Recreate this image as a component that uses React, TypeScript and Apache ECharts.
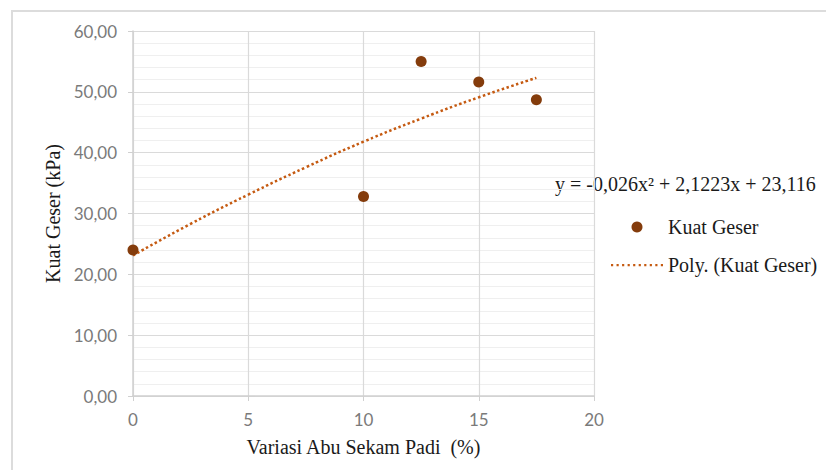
import React, { useEffect, useRef } from "react";
import * as echarts from "echarts";

const abuSekam: number[] = [0, 10, 12.5, 15, 17.5];
const kuatGeser: number[] = [24.0, 32.8, 55.0, 51.6, 48.7];
const trendX: number[] = [0, 2.5, 5, 7.5, 10, 12.5, 15, 17.5];
const trendY: number[] = [23.1, 28.3, 33.1, 37.6, 41.8, 45.6, 49.1, 52.3];
const xTicks: number[] = [0, 5, 10, 15, 20];
const yTicks: number[] = [0, 10, 20, 30, 40, 50, 60];
const equation = "y = -0,026x² + 2,1223x + 23,116";

const SERIF = "'Liberation Serif', 'Times New Roman', serif";
const SANS = "Lato, 'Open Sans', sans-serif";

// dotted-line legend icon (bounding box 52 x 11)
const dottedIcon = (() => {
  let d = "path://M0,0 L0.01,0 M52,11 L51.99,11";
  for (let i = 0; i < 10; i++) {
    const x = i * 5.6;
    d += ` M${x},4.5 h2.2 v2.2 h-2.2 z`;
  }
  return d;
})();

export default function App() {
  const ref = useRef<HTMLDivElement>(null);
  useEffect(() => {
    if (!ref.current) return;
    const chart = echarts.init(ref.current, undefined, { renderer: "svg" });
    chart.setOption({
      animation: false,
      backgroundColor: "#ffffff",
      grid: { left: 133, right: 232, top: 31, bottom: 74 },
      graphic: [
        {
          type: "rect",
          z: -10,
          shape: { x: 12, y: 11, width: 900, height: 600 },
          style: { fill: "none", stroke: "#dcdcdc", lineWidth: 2 },
          silent: true,
        },
        {
          type: "text",
          left: 555,
          top: 174,
          style: { text: equation, font: `20px ${SERIF}`, fill: "#1a1a1a" },
        },
      ],
      legend: {
        orient: "vertical",
        left: 606,
        top: 212,
        itemWidth: 52,
        itemHeight: 11,
        itemGap: 18,
        textStyle: { fontFamily: SERIF, fontSize: 20, color: "#1a1a1a" },
        data: [
          { name: "Kuat Geser", icon: "circle" },
          { name: "Poly. (Kuat Geser)", icon: dottedIcon, itemStyle: { color: "#c55a11" } },
        ],
      },
      xAxis: {
        type: "value",
        min: xTicks[0],
        max: xTicks[xTicks.length - 1],
        interval: xTicks[1] - xTicks[0],
        name: "Variasi Abu Sekam Padi  (%)",
        nameLocation: "middle",
        nameGap: 41,
        nameTextStyle: { fontFamily: SERIF, fontSize: 20, color: "#1a1a1a" },
        axisLine: { show: true, lineStyle: { color: "#d0d0d0", width: 1.5 } },
        axisTick: { show: true, length: 5, lineStyle: { color: "#d0d0d0" } },
        axisLabel: { fontFamily: SANS, fontSize: 17, color: "#7a7a7a", margin: 15 },
        splitLine: { show: true, lineStyle: { color: "#dadada", width: 1.2 } },
      },
      yAxis: {
        type: "value",
        min: yTicks[0],
        max: yTicks[yTicks.length - 1],
        interval: yTicks[1] - yTicks[0],
        name: "Kuat Geser (kPa)",
        nameLocation: "middle",
        nameGap: 68,
        nameTextStyle: { fontFamily: SERIF, fontSize: 20, color: "#1a1a1a" },
        axisLine: { show: true, lineStyle: { color: "#d0d0d0", width: 1.5 } },
        axisTick: { show: true, length: 5, lineStyle: { color: "#d0d0d0" } },
        axisLabel: {
          fontFamily: SANS,
          fontSize: 17,
          color: "#7a7a7a",
          margin: 16,
          formatter: (v: number) => v.toFixed(2).replace(".", ","),
        },
        splitLine: { show: true, lineStyle: { color: "#dadada", width: 1.2 } },
        minorTick: { show: false, splitNumber: 5 },
        minorSplitLine: { show: true, lineStyle: { color: "#efefef", width: 1 } },
      },
      series: [
        {
          name: "Kuat Geser",
          type: "scatter",
          symbol: "circle",
          symbolSize: 11,
          itemStyle: { color: "#843c0c", opacity: 1 },
          data: abuSekam.map((x, i) => [x, kuatGeser[i]]),
          z: 3,
        },
        {
          name: "Poly. (Kuat Geser)",
          type: "line",
          smooth: true,
          symbol: "none",
          showSymbol: false,
          lineStyle: { type: "dotted", width: 2.5, color: "#c55a11" },
          itemStyle: { color: "#c55a11" },
          data: trendX.map((x, i) => [x, trendY[i]]),
          z: 2,
        },
      ],
    });
    return () => chart.dispose();
  }, []);
  return (
    <div
      ref={ref}
      style={{ position: "absolute", left: 0, top: 0, width: 826, height: 470 }}
    />
  );
}
